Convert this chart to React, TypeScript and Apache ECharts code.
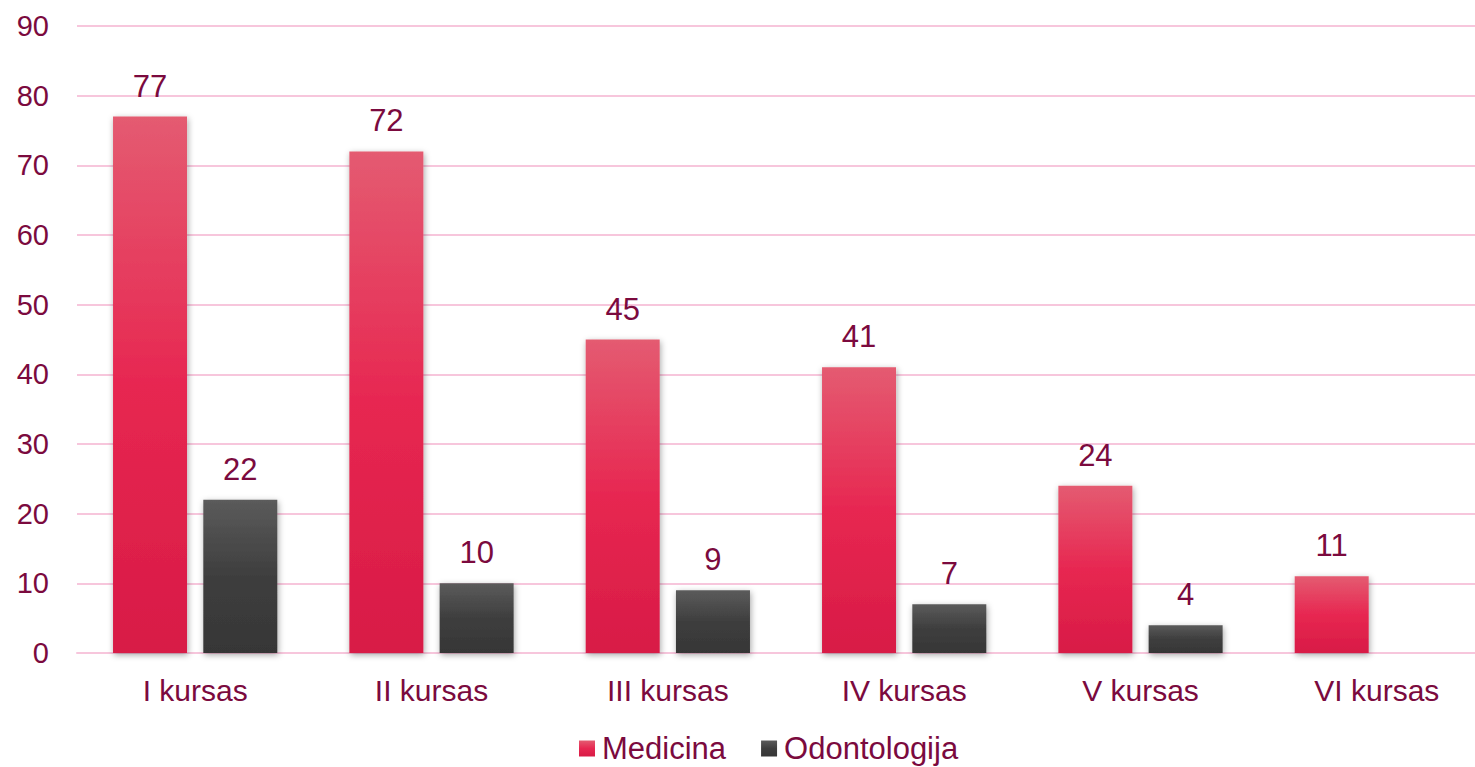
import React, { useEffect, useRef } from "react";
import * as echarts from "echarts";

const categories = ["I kursas", "II kursas", "III kursas", "IV kursas", "V kursas", "VI kursas"];
const medicina = [77, 72, 45, 41, 24, 11];
const odontologija = [22, 10, 9, 7, 4, null];
const seriesNames = ["Medicina", "Odontologija"];

const textColor = "#7B0A3E";
const font = "Arial, 'Liberation Sans', sans-serif";

export default function App() {
  const ref = useRef<HTMLDivElement>(null);
  useEffect(() => {
    const chart = echarts.init(ref.current!, null, { renderer: "svg" });
    const redGrad = new echarts.graphic.LinearGradient(0, 0, 0, 1, [
      { offset: 0, color: "#E45B71" },
      { offset: 0.5, color: "#E72751" },
      { offset: 1, color: "#D81B46" },
    ]);
    const greyGrad = new echarts.graphic.LinearGradient(0, 0, 0, 1, [
      { offset: 0, color: "#5B5B5B" },
      { offset: 0.5, color: "#3E3E3E" },
      { offset: 1, color: "#363636" },
    ]);
    const shadow = {
      shadowBlur: 6,
      shadowColor: "rgba(0,0,0,0.35)",
      shadowOffsetX: 1,
      shadowOffsetY: 2,
    };
    const labelStyle = {
      show: true,
      position: "top",
      distance: 15,
      color: textColor,
      fontSize: 31,
      fontFamily: font,
    };
    chart.setOption({
      animation: false,
      textStyle: { fontFamily: font },
      grid: {
        left: 77,
        width: 1418,
        top: 26,
        bottom: 114,
        containLabel: false,
        outerBoundsMode: "none",
      },
      legend: {
        bottom: -2,
        left: 574,
        itemWidth: 16,
        itemHeight: 16,
        itemGap: 35,
        icon: "rect",
        textStyle: { color: textColor, fontSize: 31, fontFamily: font, padding: [0, 0, 0, 2] },
        data: seriesNames,
      },
      xAxis: {
        type: "category",
        data: categories,
        axisLine: { lineStyle: { color: "#F7C6DC", width: 2 } },
        axisTick: { show: false },
        axisLabel: { color: textColor, fontSize: 30, margin: 22, fontFamily: font },
      },
      yAxis: {
        type: "value",
        min: 0,
        max: 90,
        interval: 10,
        axisLine: { show: false },
        axisTick: { show: false },
        axisLabel: { color: textColor, fontSize: 29, margin: 28, fontFamily: font },
        splitLine: { lineStyle: { color: "#F7C6DC", width: 2 } },
      },
      series: [
        {
          name: seriesNames[0],
          type: "bar",
          data: medicina,
          barWidth: 74,
          barGap: "22%",
          itemStyle: { color: redGrad, ...shadow },
          label: labelStyle,
        },
        {
          name: seriesNames[1],
          type: "bar",
          data: odontologija,
          barWidth: 74,
          barGap: "22%",
          itemStyle: { color: greyGrad, ...shadow },
          label: labelStyle,
        },
      ],
    });
    return () => chart.dispose();
  }, []);
  return (
    <div
      ref={ref}
      style={{ position: "absolute", left: 0, top: 0, width: 1475, height: 767, overflow: "hidden" }}
    />
  );
}
